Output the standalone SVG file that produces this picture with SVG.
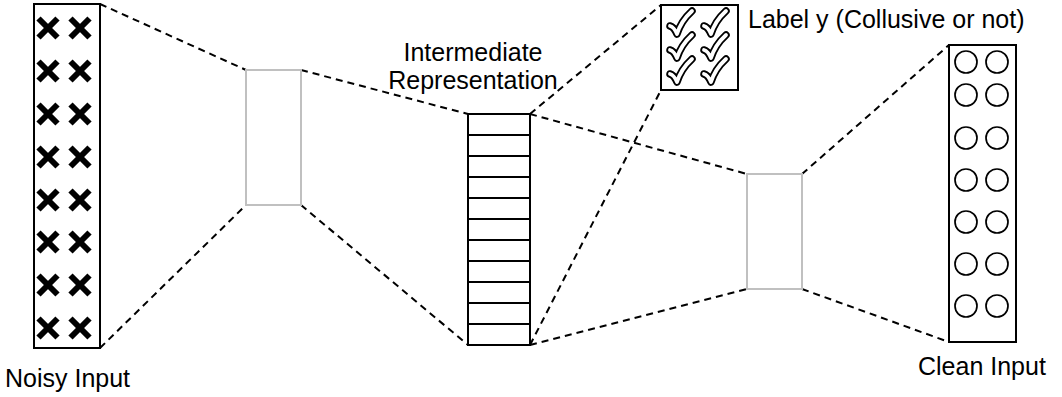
<svg xmlns="http://www.w3.org/2000/svg" width="1062" height="397" viewBox="0 0 1062 397">
<defs>
<style>
.box{fill:#fff;stroke:#000;stroke-width:2}
.gbox{fill:#fff;stroke:#c0c0c0;stroke-width:2}
.dash{fill:none;stroke:#000;stroke-width:2;stroke-dasharray:7 5}
.cell{stroke:#000;stroke-width:2}
.xm{stroke:#000;stroke-width:6;stroke-linecap:butt}
.circ{fill:none;stroke:#000;stroke-width:1.7}
.lbl{font-family:"Liberation Sans",Arial,sans-serif;font-size:25px;fill:#000}
.ckO{fill:none;stroke:#000;stroke-width:7.5;stroke-linecap:round;stroke-linejoin:round}
.ckI{fill:none;stroke:#fff;stroke-width:3.8;stroke-linecap:round;stroke-linejoin:round}
</style>
<g id="xx">
<line class="xm" x1="-9.5" y1="-9.5" x2="9.5" y2="9.5"/>
<line class="xm" x1="-9.5" y1="9.5" x2="9.5" y2="-9.5"/>
</g>
<g id="ck">
<path class="ckO" d="M3,18 Q7,19 10,26 Q14,13 25,3"/>
<path class="ckI" d="M3,18 Q7,19 10,26 Q14,13 25,3"/>
</g>
<g id="oo">
<circle class="circ" cx="0" cy="0" r="11"/>
<circle class="circ" cx="31" cy="0" r="11"/>
</g>
</defs>
<rect width="1062" height="397" fill="#fff"/>

<g id="connectors">
<line class="dash" x1="100" y1="4" x2="246" y2="70"/>
<line class="dash" x1="100" y1="348" x2="246" y2="205"/>
<line class="dash" x1="301" y1="70" x2="468" y2="114"/>
<line class="dash" x1="301" y1="205" x2="468" y2="345"/>
<line class="dash" x1="530" y1="114" x2="747" y2="174"/>
<line class="dash" x1="530" y1="345" x2="747" y2="289"/>
<line class="dash" x1="530" y1="114" x2="661" y2="5"/>
<line class="dash" x1="530" y1="345" x2="661" y2="90"/>
<line class="dash" x1="802" y1="174" x2="949" y2="45"/>
<line class="dash" x1="802" y1="289" x2="949" y2="342"/>
</g>

<g id="noisy-input">
<rect class="box" x="34" y="4" width="66" height="344"/>
<use href="#xx" x="48" y="28"/><use href="#xx" x="80" y="28"/>
<use href="#xx" x="48" y="71"/><use href="#xx" x="80" y="71"/>
<use href="#xx" x="48" y="114"/><use href="#xx" x="80" y="114"/>
<use href="#xx" x="48" y="157"/><use href="#xx" x="80" y="157"/>
<use href="#xx" x="48" y="200"/><use href="#xx" x="80" y="200"/>
<use href="#xx" x="48" y="242"/><use href="#xx" x="80" y="242"/>
<use href="#xx" x="48" y="285"/><use href="#xx" x="80" y="285"/>
<use href="#xx" x="48" y="328"/><use href="#xx" x="80" y="328"/>
<text class="lbl" x="5" y="387">Noisy Input</text>
</g>

<g id="encoder-hidden">
<rect class="gbox" x="246" y="70" width="55" height="135"/>
</g>

<g id="intermediate">
<rect class="box" x="468" y="114" width="62" height="231"/>
<line class="cell" x1="468" y1="135" x2="530" y2="135"/>
<line class="cell" x1="468" y1="156" x2="530" y2="156"/>
<line class="cell" x1="468" y1="177" x2="530" y2="177"/>
<line class="cell" x1="468" y1="198" x2="530" y2="198"/>
<line class="cell" x1="468" y1="219" x2="530" y2="219"/>
<line class="cell" x1="468" y1="240" x2="530" y2="240"/>
<line class="cell" x1="468" y1="261" x2="530" y2="261"/>
<line class="cell" x1="468" y1="282" x2="530" y2="282"/>
<line class="cell" x1="468" y1="303" x2="530" y2="303"/>
<line class="cell" x1="468" y1="324" x2="530" y2="324"/>
<text class="lbl" x="473" y="61" text-anchor="middle">Intermediate</text>
<text class="lbl" x="473" y="89" text-anchor="middle">Representation</text>
</g>

<g id="label-y">
<rect class="box" x="661" y="5" width="77" height="85"/>
<use href="#ck" x="667" y="8"/><use href="#ck" x="701" y="8"/>
<use href="#ck" x="667" y="32"/><use href="#ck" x="701" y="32"/>
<use href="#ck" x="667" y="56"/><use href="#ck" x="701" y="56"/>
<text class="lbl" x="748" y="28">Label y (Collusive or not)</text>
</g>

<g id="decoder-hidden">
<rect class="gbox" x="747" y="174" width="55" height="115"/>
</g>

<g id="clean-input">
<rect class="box" x="949" y="45" width="67" height="297"/>
<use href="#oo" x="966" y="62"/>
<use href="#oo" x="966" y="95"/>
<use href="#oo" x="966" y="138"/>
<use href="#oo" x="966" y="180"/>
<use href="#oo" x="966" y="222"/>
<use href="#oo" x="966" y="264"/>
<use href="#oo" x="966" y="306"/>
<text class="lbl" x="918" y="375">Clean Input</text>
</g>
</svg>
